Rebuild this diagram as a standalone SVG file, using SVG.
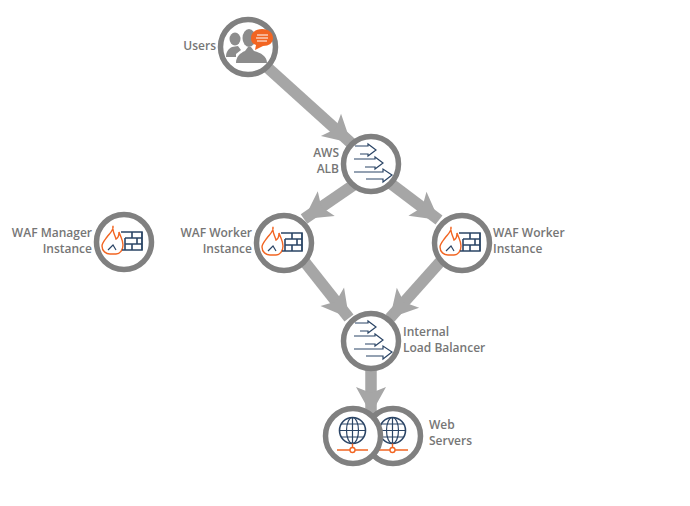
<svg xmlns="http://www.w3.org/2000/svg" width="690" height="506" viewBox="0 0 690 506">
<style>
.ring{fill:#fff;stroke:#808080;stroke-width:5.5}
.lbl{font-family:"Open Sans","Liberation Sans",sans-serif;font-size:12px;font-weight:600;fill:#767676}
.conn{fill:none;stroke:#a6a6a6;stroke-width:11.5;marker-end:url(#ah)}
.nav{fill:none;stroke:#2b4566;stroke-width:1.2}
.navb{fill:none;stroke:#2b4566;stroke-width:1.6}
.org{fill:none;stroke:#f26522;stroke-width:1.4}
</style>
<defs>
<marker id="ah" markerUnits="userSpaceOnUse" markerWidth="34" markerHeight="34" viewBox="-28 -17 30 34" refX="0" refY="0" orient="auto">
<path d="M0 0L-27 -15L-21 0L-27 15Z" fill="#a6a6a6"/>
</marker>
<g id="lb">
<path class="nav" d="M-16-18H-3V-20L5-14L-3-8V-10H-11M-17-5H4V-7L12-1L4 5V3H-6M-17 8H12V5L21 11L12 18V15H-5"/>
</g>
<g id="fw">
<path class="org" d="M-11-16C-10-12-14-9-17-5C-20-1-22 1-22 4C-22 9-18 12-14 12H-8C-4 12-1 8-1 3C-1-2-3-4-5-10C-5-6-6-4-8-3C-9-7-12-11-11-16Z"/>
<path class="nav" d="M-16 8L-11 3L-8 8"/>
<path class="navb" d="M-3-10H18V8H-2M1-4H18M1 2H18M8-10V-4M1-4V2M13-4V2M8 2V8M1 8V2"/>
<path class="nav" d="M18-10V8"/>
</g>
<g id="web">
<circle class="navb" cx="-0.5" cy="-5.5" r="13"/>
<ellipse class="nav" cx="-0.5" cy="-5.5" rx="6" ry="13"/>
<path class="nav" d="M-0.5-18.5V7.5M-13.5-5.5H12.5M-11.5-12H10.5M-11.5 1H10.5"/>
<path class="org" d="M-0.5 7.5V11.5M-16 14H-3M2 14H15"/>
<circle class="org" cx="-0.5" cy="14" r="2.5"/>
</g>
</defs>
<g id="connectors">
<path class="conn" d="M268 68L351 143"/>
<path class="conn" d="M355 184L304 219"/>
<path class="conn" d="M390 183L439 220"/>
<path class="conn" d="M304 261L349 318"/>
<path class="conn" d="M440 262L390 318"/>
<path class="conn" d="M371 368L371 414"/>
</g>
<g id="users">
<circle class="ring" cx="248" cy="47" r="27.5"/>
<g fill="#8c8c8c">
<ellipse cx="235" cy="39" rx="5.5" ry="6.5"/>
<path d="M226 57C226 52 228 49 232 47L238 46L241 50L236 54V57Z"/>
<ellipse cx="249" cy="38" rx="6.5" ry="9"/>
<path d="M236 63C236 57 240 53 245 51L248 47H251L254 51C261 53 267 56 267 63Z"/>
</g>
<path d="M262 29C269 29 273 33 273 38C273 43 269 46 263 46L255 50L256 45C253 44 251 42 251 38C251 33 255 29 262 29Z" fill="#f26522"/>
<path d="M257 35H268M256 38H268M257 41H267" stroke="#fff" stroke-width="1" fill="none"/>
<text class="lbl" text-anchor="end" x="216" y="50">Users</text>
</g>
<g id="aws-alb">
<circle class="ring" cx="371" cy="164" r="27.5"/>
<use href="#lb" x="371" y="164"/>
<text class="lbl" text-anchor="end" x="339" y="157">AWS</text>
<text class="lbl" text-anchor="end" x="339" y="173">ALB</text>
</g>
<g id="waf-manager">
<circle class="ring" cx="124" cy="242" r="27.5"/>
<use href="#fw" x="124" y="242"/>
<text class="lbl" text-anchor="end" x="92" y="237">WAF Manager</text>
<text class="lbl" text-anchor="end" x="92" y="253">Instance</text>
</g>
<g id="waf-worker-left">
<circle class="ring" cx="284" cy="243" r="27.5"/>
<use href="#fw" x="284" y="243"/>
<text class="lbl" text-anchor="end" x="252" y="237">WAF Worker</text>
<text class="lbl" text-anchor="end" x="252" y="253">Instance</text>
</g>
<g id="waf-worker-right">
<circle class="ring" cx="462" cy="243" r="27.5"/>
<use href="#fw" x="462" y="243"/>
<text class="lbl" x="493" y="237">WAF Worker</text>
<text class="lbl" x="493" y="253">Instance</text>
</g>
<g id="internal-lb">
<circle class="ring" cx="371" cy="341" r="27.5"/>
<use href="#lb" x="371" y="341"/>
<text class="lbl" x="403" y="336">Internal</text>
<text class="lbl" x="403" y="352">Load Balancer</text>
</g>
<g id="web-server-back">
<circle class="ring" cx="393" cy="436" r="27.5"/>
<use href="#web" x="393" y="436"/>
</g>
<g id="web-server-front">
<circle class="ring" cx="353" cy="436" r="27.5"/>
<use href="#web" x="353" y="436"/>
<text class="lbl" x="429" y="429">Web</text>
<text class="lbl" x="429" y="445">Servers</text>
</g>
</svg>
